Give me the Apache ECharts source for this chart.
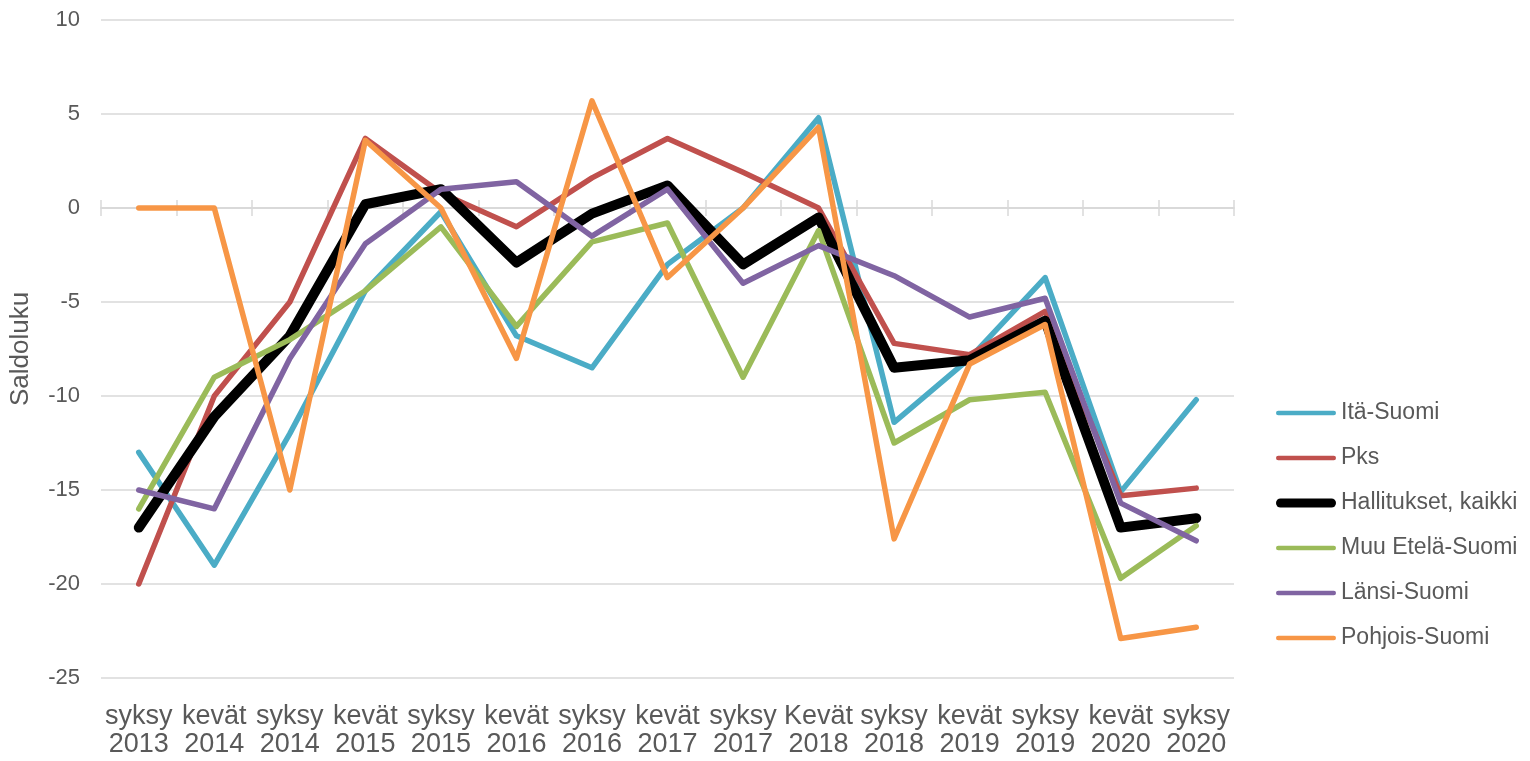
<!DOCTYPE html>
<html>
<head>
<meta charset="utf-8">
<script src="https://cdn.jsdelivr.net/npm/echarts@6/dist/echarts.min.js"></script>
<style>
  html, body { margin: 0; padding: 0; background: #fff; }
  #chart { width: 1530px; height: 761px; }
</style>
</head>
<body>
<div id="chart"></div>
<script>
// Survey rounds (season + year)
const categories = [
  'syksy\n2013', 'kevät\n2014', 'syksy\n2014', 'kevät\n2015', 'syksy\n2015',
  'kevät\n2016', 'syksy\n2016', 'kevät\n2017', 'syksy\n2017', 'Kevät\n2018',
  'syksy\n2018', 'kevät\n2019', 'syksy\n2019', 'kevät\n2020', 'syksy\n2020'
];

// Balance figures per region
const itaSuomi      = [-13, -19, -12, -4.4, -0.2, -6.8, -8.5, -3.0, 0.0, 4.8, -11.4, -8.0, -3.7, -15.1, -10.2];
const pks           = [-20, -10, -5, 3.7, 0.8, -1.0, 1.6, 3.7, 1.9, 0.0, -7.2, -7.8, -5.5, -15.3, -14.9];
const hallitukset   = [-17, -11.1, -6.8, 0.2, 1.0, -2.9, -0.3, 1.2, -3.0, -0.5, -8.5, -8.1, -6.0, -17.0, -16.5];
const muuEtelaSuomi = [-16, -9.0, -7.0, -4.4, -1.0, -6.3, -1.8, -0.8, -9.0, -1.2, -12.5, -10.2, -9.8, -19.7, -16.9];
const lansiSuomi    = [-15, -16, -8.0, -1.9, 1.0, 1.4, -1.5, 1.0, -4.0, -2.0, -3.6, -5.8, -4.8, -15.7, -17.7];
const pohjoisSuomi  = [0, 0, -15, 3.6, 0, -8.0, 5.7, -3.7, 0, 4.3, -17.6, -8.3, -6.2, -22.9, -22.3];

const yTicks = { min: -25, max: 10, interval: 5 };

const seriesDefs = [
  { name: 'Itä-Suomi',           data: itaSuomi,      color: '#4bacc6', width: 5.5 },
  { name: 'Pks',                 data: pks,           color: '#c0504d', width: 5.5 },
  { name: 'Hallitukset, kaikki', data: hallitukset,   color: '#000000', width: 10 },
  { name: 'Muu Etelä-Suomi',     data: muuEtelaSuomi, color: '#9bbb59', width: 5.5 },
  { name: 'Länsi-Suomi',         data: lansiSuomi,    color: '#8064a2', width: 5.5 },
  { name: 'Pohjois-Suomi',       data: pohjoisSuomi,  color: '#f79646', width: 5.5 }
];

const FONT = '"Liberation Sans", Arial, sans-serif';
const TEXT = '#595959';
const GRID = '#d9d9d9';

// Legend key: a rounded bar as thick as the series line
function barIcon(h) {
  const r = h / 2;
  return 'path://M' + r + ',0 L' + (60 - r) + ',0 A' + r + ',' + r + ' 0 0 1 ' + (60 - r) + ',' + h +
         ' L' + r + ',' + h + ' A' + r + ',' + r + ' 0 0 1 ' + r + ',0 Z';
}

const yBase = {
  type: 'value',
  min: yTicks.min,
  max: yTicks.max,
  interval: yTicks.interval
};

const chart = echarts.init(document.getElementById('chart'), null, { renderer: 'canvas' });

chart.setOption({
  animation: false,
  backgroundColor: '#ffffff',
  grid: { left: 101, right: 296, top: 20, bottom: 83, containLabel: false, outerBoundsMode: 'none' },
  legend: {
    orient: 'vertical',
    left: 1271,
    top: 396,
    itemWidth: 60,
    itemHeight: 10,
    itemGap: 21,
    symbolKeepAspect: true,
    textStyle: { color: TEXT, fontSize: 23, fontFamily: FONT, lineHeight: 24 },
    data: seriesDefs.map(s => ({ name: s.name, icon: barIcon(s.width === 10 ? 9 : 4.5) }))
  },
  xAxis: [
    {
      // category axis sitting on the zero line, ticks pointing down, labels at the bottom
      type: 'category',
      position: 'bottom',
      data: categories,
      boundaryGap: true,
      axisLine: { onZero: true, onZeroAxisIndex: 0, lineStyle: { color: GRID, width: 1.5 } },
      axisTick: { show: true, inside: false, length: 8, lineStyle: { color: GRID, width: 1.5 } },
      axisLabel: {
        interval: 0,
        margin: 25,
        color: TEXT,
        fontSize: 27,
        lineHeight: 28,
        fontFamily: FONT
      },
      splitLine: { show: false }
    },
    {
      // same axis, ticks pointing up, so the ticks cross the zero line
      type: 'category',
      position: 'top',
      data: categories,
      boundaryGap: true,
      axisLine: { show: true, onZero: true, onZeroAxisIndex: 1, lineStyle: { color: GRID, width: 1.5 } },
      axisTick: { show: true, inside: false, length: 8, lineStyle: { color: GRID, width: 1.5 } },
      axisLabel: { show: false },
      splitLine: { show: false }
    }
  ],
  yAxis: [
    Object.assign({}, yBase, {
      name: 'Saldoluku',
      nameLocation: 'middle',
      nameGap: 67,
      nameTextStyle: { color: TEXT, fontSize: 26, fontFamily: FONT },
      axisLine: { show: false },
      axisTick: { show: false },
      axisLabel: { color: TEXT, fontSize: 22, fontFamily: FONT, margin: 21 },
      splitLine: { show: true, lineStyle: { color: GRID, width: 1.5 } }
    }),
    Object.assign({}, yBase, {
      position: 'right',
      axisLine: { show: false },
      axisTick: { show: false },
      axisLabel: { show: false },
      splitLine: { show: false }
    })
  ],
  series: seriesDefs.map(s => ({
    name: s.name,
    type: 'line',
    data: s.data,
    xAxisIndex: 0,
    yAxisIndex: 0,
    symbol: 'none',
    showSymbol: false,
    smooth: false,
    color: s.color,
    lineStyle: { color: s.color, width: s.width, cap: 'round', join: 'round' },
    emphasis: { disabled: true }
  }))
});
</script>
</body>
</html>
